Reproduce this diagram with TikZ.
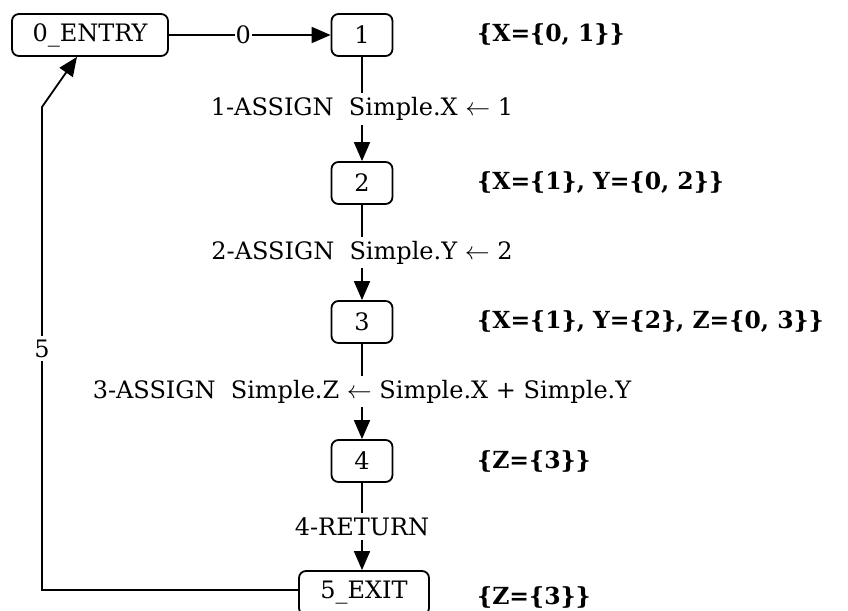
\documentclass[tikz,border=0pt]{standalone}
\usepackage{fontspec}
\setmainfont{DejaVu Serif}
\usetikzlibrary{arrows.meta}
\begin{document}
\begin{tikzpicture}[x=1pt,y=-1pt,
  font=\fontsize{24}{28}\selectfont,
  box/.style={draw, line width=1.8pt, rounded corners=7pt, inner sep=0pt, minimum height=42pt},
  edge/.style={draw, line width=1.8pt, -{Triangle[length=19pt,width=16pt]}},
  lbl/.style={fill=white, inner sep=4pt},
  ann/.style={anchor=west, inner sep=0pt, font=\fontsize{23.5}{28}\selectfont\bfseries}]
\useasboundingbox (0,0) rectangle (848,610);
\node[box, minimum width=156pt] (entry) at (90,35) {0\_ENTRY};
\node[box, minimum width=61pt] (n1) at (362,35) {1};
\node[box, minimum width=61pt] (n2) at (362,183) {2};
\node[box, minimum width=61pt] (n3) at (362,322) {3};
\node[box, minimum width=61pt] (n4) at (362,461) {4};
\node[box, minimum width=130pt, minimum height=44pt] (exit) at (364,593) {5\_EXIT};
\node[ann] (a1) at (477,35) {\{X=\{0, 1\}\}};
\node[ann] (a2) at (477,183) {\{X=\{1\}, Y=\{0, 2\}\}};
\node[ann] (a3) at (477,322) {\{X=\{1\}, Y=\{2\}, Z=\{0, 3\}\}};
\node[ann] (a4) at (477,461) {\{Z=\{3\}\}};
\node[ann] (a5) at (477,597) {\{Z=\{3\}\}};
\coordinate (bend) at (42,107);
\draw[edge] (entry) -- node[lbl, inner sep=1pt, pos=0.46] {0} (n1);
\draw[edge] (n1) -- node[lbl] {1-ASSIGN\ \ Simple.X $\leftarrow$ 1} (n2);
\draw[edge] (n2) -- node[lbl] {2-ASSIGN\ \ Simple.Y $\leftarrow$ 2} (n3);
\draw[edge] (n3) -- node[lbl] {3-ASSIGN\ \ Simple.Z $\leftarrow$ Simple.X + Simple.Y} (n4);
\draw[edge] (n4) -- node[lbl] {4-RETURN} (n4 |- exit.north);
\draw[edge] ([yshift=3pt]exit.west) -| node[lbl, pos=0.75] {5} (bend) -- ([xshift=-13pt]entry.south);
\end{tikzpicture}
\end{document}
